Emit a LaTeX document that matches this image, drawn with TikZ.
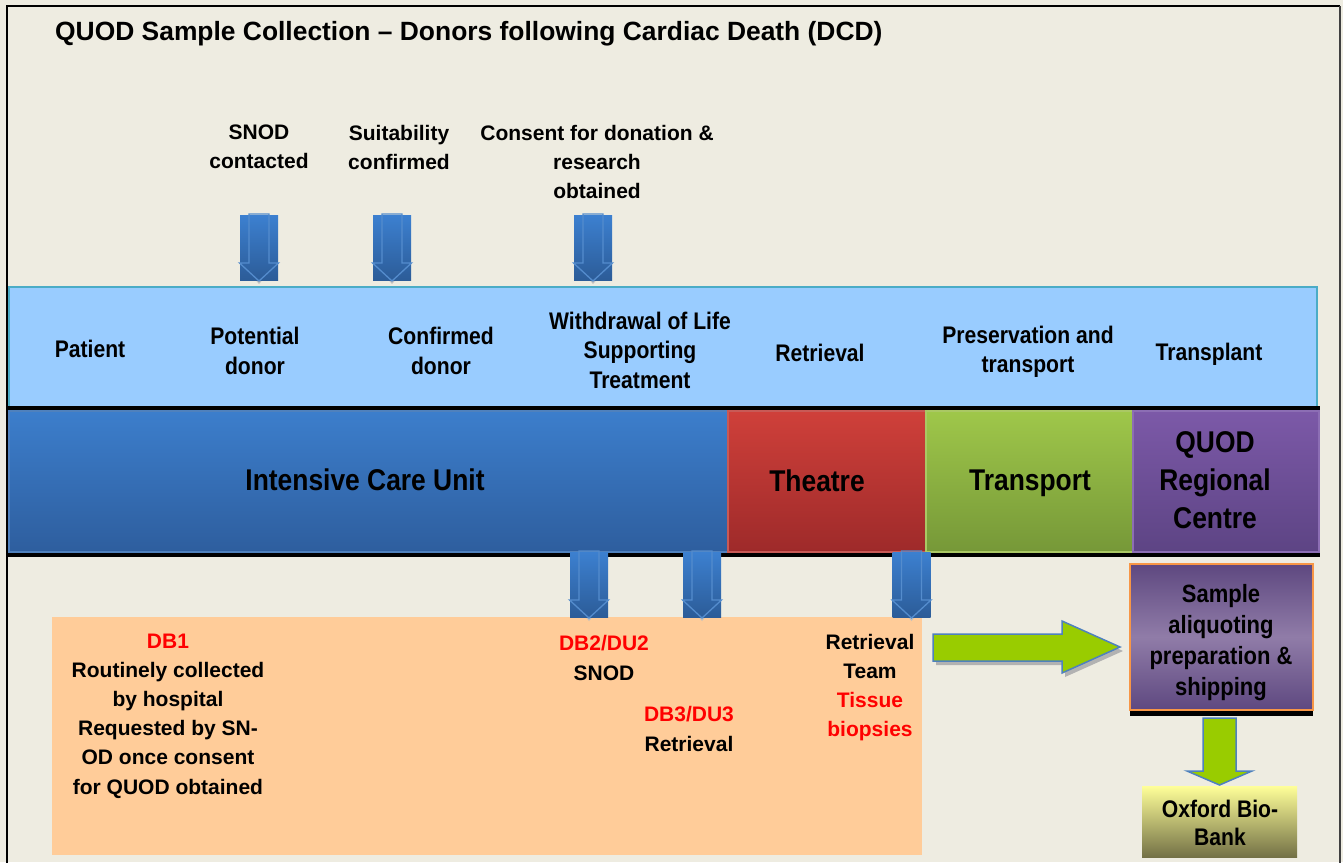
\documentclass[tikz,border=0pt]{standalone}
\usepackage{fontspec}
\setmainfont{Liberation Sans}
\newfontfamily\narrowfont{Liberation Sans}[FakeStretch=0.88]
\definecolor{bg}{RGB}{238,236,225}
\definecolor{lband}{RGB}{153,204,255}
\definecolor{lbandline}{RGB}{75,172,198}
\definecolor{icuA}{RGB}{60,126,204}
\definecolor{icuB}{RGB}{46,94,158}
\definecolor{icuL}{RGB}{79,129,189}
\definecolor{thA}{RGB}{207,64,58}
\definecolor{thB}{RGB}{158,42,42}
\definecolor{thL}{RGB}{200,90,86}
\definecolor{trA}{RGB}{159,199,74}
\definecolor{trB}{RGB}{118,152,56}
\definecolor{trL}{RGB}{170,200,100}
\definecolor{puA}{RGB}{124,89,168}
\definecolor{puB}{RGB}{93,68,132}
\definecolor{puL}{RGB}{140,110,180}
\definecolor{orbox}{RGB}{255,204,153}
\definecolor{blA}{RGB}{60,128,208}
\definecolor{blB}{RGB}{44,92,152}
\definecolor{blLine}{RGB}{84,140,205}
\definecolor{agreen}{RGB}{153,204,0}
\definecolor{ablue}{RGB}{79,129,189}
\definecolor{spA}{RGB}{94,72,128}
\definecolor{spB}{RGB}{144,124,168}
\definecolor{sporange}{RGB}{247,150,70}
\definecolor{oxA}{RGB}{255,255,153}
\definecolor{oxB}{RGB}{115,113,70}
\definecolor{dred}{RGB}{255,0,0}
\tikzset{
  toplbl/.style={align=center, inner sep=0, font=\fontsize{21}{29}\selectfont\bfseries},
  bandlbl/.style={align=center, inner sep=0, font=\narrowfont\fontsize{24}{29.5}\selectfont\bfseries},
  biglbl/.style={align=center, inner sep=0, font=\narrowfont\fontsize{30}{38}\selectfont\bfseries},
  botlbl/.style={align=center, inner sep=0, font=\fontsize{21}{29.2}\selectfont\bfseries},
  boxlbl/.style={align=center, inner sep=0, font=\narrowfont\fontsize{25}{31}\selectfont\bfseries},
  oxlbl/.style={align=center, inner sep=0, font=\narrowfont\fontsize{24}{28}\selectfont\bfseries},
  bluedown/.pic={
    \fill[black!25] (-6,62) -- (6,62) -- (0,69) -- cycle;
    \shade[top color=blA, bottom color=blB] (-19,0) rectangle (19,65);
    \draw[blLine, line width=1.3, line join=miter] (-10,-1) -- (10,-1) -- (10,48) -- (19.5,48) -- (0,66) -- (-19.5,48) -- (-10,48) -- cycle;
  }
}
\begin{document}
\begin{tikzpicture}[x=1pt,y=-1pt]
\useasboundingbox (0,0) rectangle (1343,862);
\fill[bg] (0,0) rectangle (1343,862);
% frame
\draw[black, line width=2] (7,870) -- (7,6) -- (1340,6);
\draw[black!75, line width=2] (1340,6) -- (1340,870);

% title
\node[anchor=west, inner sep=0, font=\fontsize{26.4}{30}\selectfont\bfseries] (title) at (55,34) {QUOD Sample Collection – Donors following Cardiac Death (DCD)};

% top labels
\node[toplbl] (snod) at (259,147) {SNOD\\contacted};
\node[toplbl] (suit) at (399,147) {Suitability\\confirmed};
\node[toplbl] (cons) at (597,162) {Consent for donation \&\\research\\obtained};

% top arrows
\pic at (259,215) {bluedown};
\pic at (392,215) {bluedown};
\pic at (593,215) {bluedown};

% light blue band
\fill[lband] (8,287) rectangle (1317,406);
\draw[lbandline, line width=2] (8,287) -- (1317,287) -- (1317,406);
\draw[lbandline, line width=2] (9,287) -- (9,406);
\node[bandlbl] (patient) at (90,349) {Patient};
\node[bandlbl] (pot) at (255,351) {Potential\\donor};
\node[bandlbl] (conf) at (441,351) {Confirmed\\donor};
\node[bandlbl] (withd) at (640,350) {Withdrawal of Life\\Supporting\\Treatment};
\node[bandlbl] (retr) at (820,353) {Retrieval};
\node[bandlbl] (pres) at (1028,352) {Preservation and\\transport};
\node[bandlbl] (transp) at (1209,354) {Transplant};

% black rules
\fill[black] (8,406) rectangle (1320,411);
\fill[black] (8,552) rectangle (1320,557);

% big band
\shade[top color=icuA, bottom color=icuB] (9,411) rectangle (728,552);
\draw[icuL, line width=1.5] (9,411) rectangle (728,552);
\shade[top color=thA, bottom color=thB] (728,411) rectangle (926,552);
\draw[thL, line width=1.5] (728,411) rectangle (926,552);
\shade[top color=trA, bottom color=trB] (926,411) rectangle (1133,552);
\draw[trL, line width=1.5] (926,411) rectangle (1133,552);
\shade[top color=puA, bottom color=puB] (1133,411) rectangle (1319,552);
\draw[puL, line width=1.5] (1133,411) rectangle (1319,552);
\node[biglbl] (icu) at (365,480) {Intensive Care Unit};
\node[biglbl] (theatre) at (817,481) {Theatre};
\node[biglbl] (transport) at (1030,483) {Transport};
\node[biglbl] (quod) at (1215,480) {QUOD\\Regional\\Centre};

% orange box
\fill[orbox] (52,617) rectangle (922,855);

% bottom arrows
\pic at (589,552) {bluedown};
\pic at (702,552) {bluedown};
\pic at (911.5,552) {bluedown};

% bottom labels
\node[botlbl] (db1) at (168,716) {\textcolor{dred}{DB1}\\Routinely collected\\by hospital\\Requested by SN-\\OD once consent\\for QUOD obtained};
\node[botlbl] (db2) at (604,658) {\textcolor{dred}{DB2/DU2}\\SNOD};
\node[botlbl] (db3) at (689,729) {\textcolor{dred}{DB3/DU3}\\Retrieval};
\node[botlbl] (rteam) at (870,687.5) {Retrieval\\Team\\\textcolor{dred}{Tissue}\\\textcolor{dred}{biopsies}};

% green right arrow
\fill[black!30] (936,638) -- (1065,638) -- (1065,625) -- (1123,651) -- (1065,677) -- (1065,665) -- (936,665) -- cycle;
\filldraw[fill=agreen, draw=ablue, line width=1.5, line join=miter] (933,634) -- (1062,634) -- (1062,621) -- (1120,647) -- (1062,673) -- (1062,661) -- (933,661) -- cycle;

% sample box
\fill[black] (1130,700) rectangle (1313,716);
\shade[top color=spA, bottom color=spA, middle color=spB] (1130,564) rectangle (1313,710);
\draw[sporange, line width=2] (1130,564) rectangle (1313,710);
\node[boxlbl] (sample) at (1221,643) {Sample\\aliquoting\\preparation \&\\shipping};

% green down arrow
\filldraw[fill=agreen, draw=ablue, line width=1.5, line join=miter] (1203,718) -- (1236,718) -- (1236,771) -- (1252,771) -- (1219.5,785) -- (1187,771) -- (1203,771) -- cycle;

% oxford box
\shade[top color=oxA, bottom color=oxB] (1142,786) rectangle (1297,857);
\node[oxlbl] (ox) at (1220,823) {Oxford Bio-\\Bank};
\end{tikzpicture}
\end{document}
